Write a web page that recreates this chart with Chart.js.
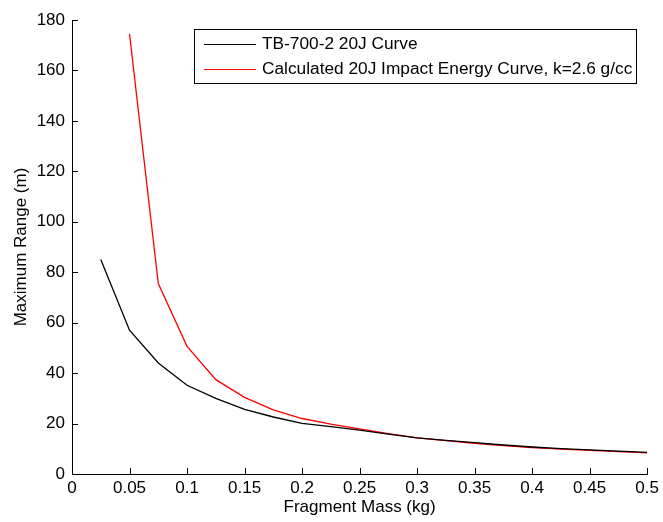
<!DOCTYPE html>
<html>
<head>
<meta charset="utf-8">
<script src="https://cdn.jsdelivr.net/npm/chart.js@4"></script>
<style>
  html, body { margin: 0; padding: 0; background: #fff; }
</style>
</head>
<body>
<canvas id="myChart" width="663" height="522"></canvas>
<script>
// fragment mass (kg)
let massTB = [0.025, 0.05, 0.075, 0.1, 0.125, 0.15, 0.175, 0.2, 0.225, 0.25, 0.275, 0.3, 0.325, 0.35, 0.375, 0.4, 0.425, 0.45, 0.475, 0.5];
let rangeTB = [85, 57, 44, 35.2, 30, 25.6, 22.6, 20.1, 18.8, 17.4, 15.8, 14.3, 13.3, 12.4, 11.5, 10.7, 10.1, 9.6, 9.1, 8.6];

let massCalc = [0.05, 0.075, 0.1, 0.125, 0.15, 0.175, 0.2, 0.225, 0.25, 0.275, 0.3, 0.325, 0.35, 0.375, 0.4, 0.425, 0.45, 0.475, 0.5];
let rangeCalc = [174.5, 75.5, 50.6, 37.4, 30.4, 25.4, 22, 19.8, 17.9, 16, 14.3, 13.2, 12.2, 11.3, 10.5, 9.9, 9.4, 8.9, 8.4];

let xTicks = [0, 0.05, 0.1, 0.15, 0.2, 0.25, 0.3, 0.35, 0.4, 0.45, 0.5];
let yTicks = [0, 20, 40, 60, 80, 100, 120, 140, 160, 180];

let seriesNames = ['TB-700-2 20J Curve', 'Calculated 20J Impact Energy Curve, k=2.6 g/cc'];
let seriesColors = ['#000000', '#ff0000'];

let font = 'Arial, "Liberation Sans", sans-serif';

function toPoints(xs, ys) {
    return xs.map(function (x, i) { return { x: x, y: ys[i] }; });
}

// inward ticks like matlab
let innerTicks = {
    id: 'innerTicks',
    afterDraw: function (chart) {
        let c = chart.ctx;
        let xs = chart.scales.x, ys = chart.scales.y;
        let a = chart.chartArea;
        c.save();
        c.strokeStyle = '#000';
        c.lineWidth = 1;
        c.beginPath();
        xTicks.forEach(function (t) {
            let px = Math.round(xs.getPixelForValue(t)) + 0.5;
            c.moveTo(px, a.bottom);
            c.lineTo(px, a.bottom - 6);
        });
        yTicks.forEach(function (t) {
            let py = Math.round(ys.getPixelForValue(t)) + 0.5;
            c.moveTo(a.left, py);
            c.lineTo(a.left + 6, py);
        });
        c.stroke();
        c.restore();
    }
};

// boxed legend inside the plot
let boxLegend = {
    id: 'boxLegend',
    afterDraw: function (chart) {
        let c = chart.ctx;
        let left = 194, top = 29, right = 636, bottom = 83;
        c.save();
        c.fillStyle = '#fff';
        c.fillRect(left, top, right - left, bottom - top);
        c.strokeStyle = '#000';
        c.lineWidth = 1;
        c.strokeRect(left + 0.5, top + 0.5, right - left, bottom - top);
        c.font = '17.3px ' + font;
        c.textBaseline = 'middle';
        let rows = [44, 69];
        seriesNames.forEach(function (name, i) {
            c.strokeStyle = seriesColors[i];
            c.lineWidth = 1.2;
            c.beginPath();
            c.moveTo(204, rows[i] + 0.5);
            c.lineTo(256, rows[i] + 0.5);
            c.stroke();
            c.fillStyle = '#000';
            c.fillText(name, 262, rows[i]);
        });
        c.restore();
    }
};

let ctx = document.getElementById('myChart').getContext('2d');
let chart = new Chart(ctx, {
    type: 'scatter',
    data: {
        datasets: [
            {
                label: seriesNames[0],
                data: toPoints(massTB, rangeTB),
                borderColor: seriesColors[0],
                borderWidth: 1.3,
                showLine: true,
                pointRadius: 0,
                tension: 0
            },
            {
                label: seriesNames[1],
                data: toPoints(massCalc, rangeCalc),
                borderColor: seriesColors[1],
                borderWidth: 1.3,
                showLine: true,
                pointRadius: 0,
                tension: 0
            }
        ]
    },
    plugins: [innerTicks, boxLegend],
    options: {
        responsive: false,
        animation: false,
        devicePixelRatio: 1,
        layout: { padding: { left: 0, right: 13, top: 20, bottom: 0 } },
        plugins: {
            legend: { display: false },
            tooltip: { enabled: false }
        },
        scales: {
            x: {
                type: 'linear',
                min: 0,
                max: 0.5,
                afterFit: function (s) { s.height = 48; },
                afterBuildTicks: function (s) { s.ticks = xTicks.map(function (v) { return { value: v }; }); },
                ticks: {
                    color: '#000',
                    font: { family: font, size: 17 },
                    padding: 4,
                    maxRotation: 0,
                    autoSkip: false,
                    callback: function (v) { return String(+v.toFixed(2)); }
                },
                grid: { display: false, drawTicks: false },
                border: { display: true, color: '#000', width: 1 },
                title: {
                    display: true,
                    text: 'Fragment Mass (kg)',
                    color: '#000',
                    font: { family: font, size: 17 },
                    padding: { top: 0, bottom: 4 }
                }
            },
            y: {
                min: 0,
                max: 180,
                afterFit: function (s) { s.width = 72; },
                afterBuildTicks: function (s) { s.ticks = yTicks.map(function (v) { return { value: v }; }); },
                ticks: {
                    color: '#000',
                    font: { family: font, size: 17 },
                    padding: 7,
                    autoSkip: false
                },
                grid: { display: false, drawTicks: false },
                border: { display: true, color: '#000', width: 1 },
                title: {
                    display: true,
                    text: 'Maximum Range (m)',
                    color: '#000',
                    font: { family: font, size: 17 },
                    padding: { top: 11, bottom: 0 }
                }
            }
        }
    }
});
</script>
</body>
</html>
